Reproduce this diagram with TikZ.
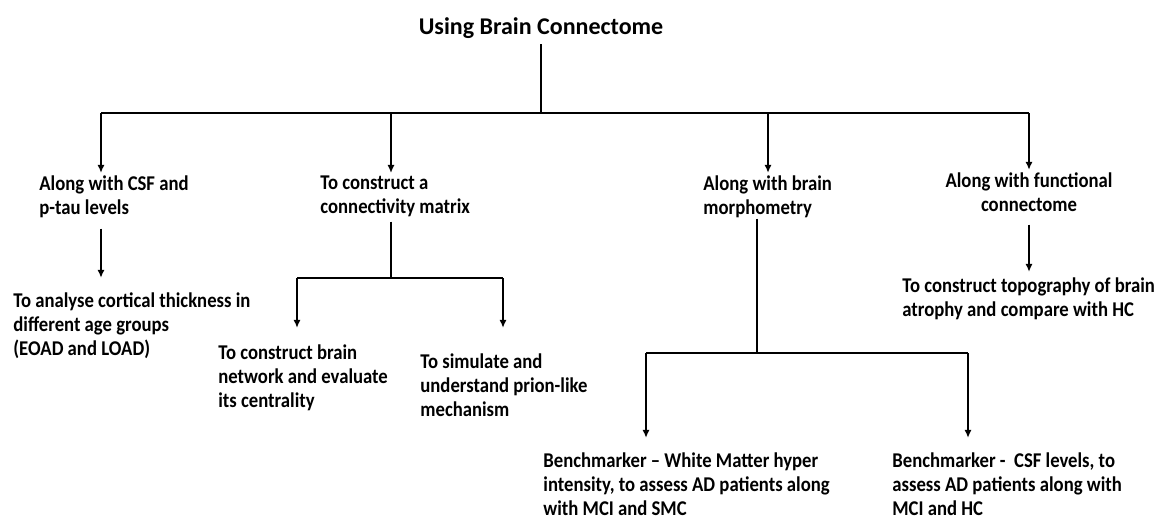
\documentclass[tikz,border=0pt]{standalone}
\usepackage{fontspec}
\setmainfont{Carlito}
\newfontfamily\bodyfont{Carlito}[FakeStretch=0.89, Ligatures=TeX]
\usetikzlibrary{arrows.meta}

\tikzset{
  txt/.style={font=\bodyfont\bfseries\fontsize{10.5}{12}\selectfont, align=left, inner sep=0pt, anchor=base west},
  head/.style={font=\bfseries\fontsize{12}{14}\selectfont, inner sep=0pt, anchor=base},
  link/.style={line width=0.8pt},
  arr/.style={link, -{Latex[length=4pt,width=3.6pt]}}
}

\begin{document}
\begin{tikzpicture}[x=0.5pt,y=-0.5pt]
    \useasboundingbox (0,0) rectangle (1156,521);

    \node[head] (title) at (541,34) {Using Brain Connectome};

    % first level (placed at the baseline of the last line)
    \node[txt] (csf) at (39,214) {Along with CSF and\\p-tau levels};
    \node[txt] (mat) at (320,213) {To construct a\\connectivity matrix};
    \node[txt] (mor) at (703,214) {Along with brain\\morphometry};
    \node[txt, align=center, anchor=base] (fun) at (1029,211) {Along with functional\\connectome};

    % second level
    \node[txt] (cort) at (13,355) {To analyse cortical thickness in\\different age groups\\(EOAD and LOAD)};
    \node[txt] (net) at (218,407) {To construct brain\\network and evaluate\\its centrality};
    \node[txt] (sim) at (420,416) {To simulate and\\understand prion-like\\mechanism};
    \node[txt] (topo) at (902,316) {To construct topography of brain\\atrophy and compare with HC};
    \node[txt] (wmh) at (543,515) {Benchmarker -- White Matter hyper\\intensity, to assess AD patients along\\with MCI and SMC};
    \node[txt] (csfl) at (892,515) {Benchmarker -\ \ CSF levels, to\\assess AD patients along with\\MCI and HC};

    % branch points
    \coordinate (hub) at (541,113);
    \coordinate (b-csf) at (101,113);
    \coordinate (b-mat) at (391,113);
    \coordinate (b-mor) at (768,113);
    \coordinate (b-fun) at (1029,113);
    \coordinate (j-mat) at (391,278);
    \coordinate (j-net) at (297,278);
    \coordinate (j-sim) at (503,278);
    \coordinate (j-mor) at (757,353);
    \coordinate (j-wmh) at (646,353);
    \coordinate (j-csfl) at (968,353);

    \draw[link, shorten <=3pt] (title.south) -- (hub);
    \draw[link] (b-csf) -- (b-fun);
    \foreach \n in {csf,mat,mor,fun}
        \draw[arr, shorten >=1pt] (b-\n) -- (b-\n |- \n.north);

    \draw[arr, shorten <=5.5pt, shorten >=7pt] (csf.south -| b-csf) -- (cort.north -| b-csf);

    \draw[link, shorten <=2.5pt] (mat.south -| j-mat) -- (j-mat);
    \draw[link] (j-net) -- (j-sim);
    \draw[arr, shorten >=8pt] (j-net) -- (j-net |- net.north);
    \draw[arr, shorten >=12.5pt] (j-sim) -- (j-sim |- sim.north);

    \draw[link, shorten <=0.5pt] (mor.south -| j-mor) -- (j-mor);
    \draw[link] (j-wmh) -- (j-csfl);
    \draw[arr, shorten >=7pt] (j-wmh) -- (j-wmh |- wmh.north);
    \draw[arr, shorten >=7pt] (j-csfl) -- (j-csfl |- csfl.north);

    \draw[arr, shorten <=6.5pt, shorten >=2.5pt] (fun.south) -- (topo.north -| fun.south);
\end{tikzpicture}
\end{document}
